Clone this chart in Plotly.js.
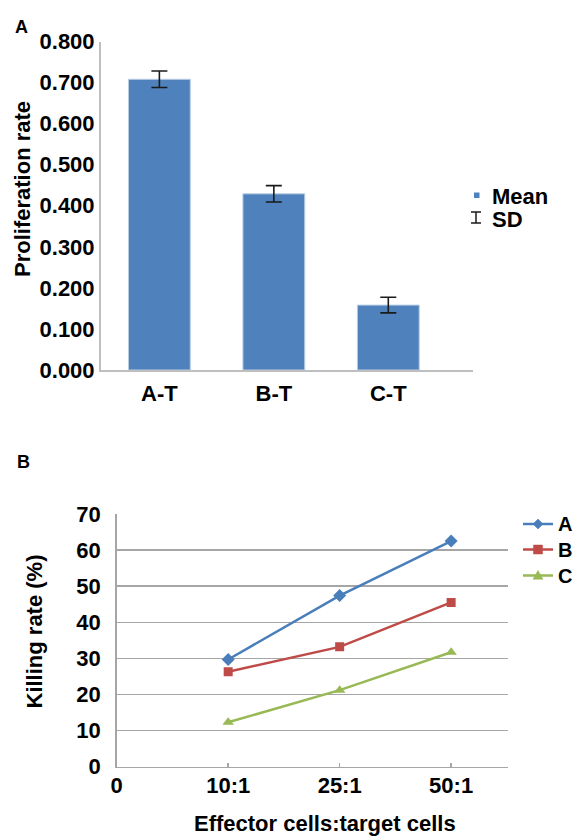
<!DOCTYPE html>
<html>
<head>
<meta charset="utf-8">
<script src="https://cdn.plot.ly/plotly-3.0.1.min.js"></script>
<style>html,body{margin:0;padding:0;background:#fff;}#chart{width:574px;height:837px;}</style>
</head>
<body>
<div id="chart"></div>
<script>
// ---- data ----
const barCategories = ['A-T', 'B-T', 'C-T'];
const meanValues = [0.708, 0.429, 0.158];
const sdValues = [0.020, 0.020, 0.019];

const ratioCategories = ['0', '10:1', '25:1', '50:1'];
const killX = ['10:1', '25:1', '50:1'];
const killA = [29.7, 47.4, 62.5];
const killB = [26.3, 33.2, 45.5];
const killC = [12.3, 21.2, 31.7];
const seriesNames = ['A', 'B', 'C'];

// ---- helpers ----
const W = 574, H = 837;
const px = x => x / W;
const py = y => 1 - y / H;
const FONT = {family: 'Liberation Sans, Arial, sans-serif', size: 22, color: '#000', weight: 'bold'};
const AXIS_GRAY = '#bfbfbf';
const COLORS = ['#4A7EBB', '#BE4B48', '#98B954'];
const SYMBOLS = ['diamond', 'square', 'triangle-up'];
const SIZES = [10, 9, 10];

const traces = [
  {
    type: 'bar', x: barCategories, y: meanValues, xaxis: 'x', yaxis: 'y',
    width: 0.54, showlegend: false, name: 'Mean',
    marker: {color: '#4F81BD', line: {color: '#b9cde5', width: 1}},
    error_y: {type: 'data', array: sdValues, visible: true, color: '#1a1a1a', thickness: 1.6, width: 8}
  }
];
[killA, killB, killC].forEach((vals, i) => {
  traces.push({
    type: 'scatter', mode: 'lines+markers', x: killX, y: vals, name: seriesNames[i],
    xaxis: 'x2', yaxis: 'y2', showlegend: false,
    line: {color: COLORS[i], width: 2.5},
    marker: {symbol: SYMBOLS[i], size: SIZES[i], color: COLORS[i]}
  });
});

const annotations = [
  {text: 'A', x: px(21.5), y: py(27), xanchor: 'center', yanchor: 'middle',
   font: {family: FONT.family, size: 18, weight: 'bold', color: '#000'}},
  {text: 'B', x: px(23.5), y: py(461.5), xanchor: 'center', yanchor: 'middle',
   font: {family: FONT.family, size: 18, weight: 'bold', color: '#000'}},
  {text: 'Proliferation rate', x: px(22), y: py(189), textangle: -90, xanchor: 'center', yanchor: 'middle', font: FONT},
  {text: 'Killing rate (%)', x: px(33.5), y: py(632), textangle: -90, xanchor: 'center', yanchor: 'middle', font: FONT},
  {text: 'Effector cells:target cells', x: px(325), y: 0, xanchor: 'center', yanchor: 'bottom', font: FONT, borderpad: 0},
  {text: 'Mean', x: px(490), y: py(196), xanchor: 'left', yanchor: 'middle', font: FONT},
  {text: 'SD', x: px(490), y: py(220), xanchor: 'left', yanchor: 'middle', font: FONT}
];
const shapes = [
  // Mean legend swatch
  {type: 'rect', x0: px(474), x1: px(479.5), y0: py(192.5), y1: py(198), fillcolor: '#4F81BD', line: {width: 0}},
  // SD legend I-beam
  {type: 'line', x0: px(476), x1: px(476), y0: py(212), y1: py(223), line: {color: '#1a1a1a', width: 1.5}},
  {type: 'line', x0: px(471), x1: px(481), y0: py(212), y1: py(212), line: {color: '#1a1a1a', width: 1.5}},
  {type: 'line', x0: px(471), x1: px(481), y0: py(223), y1: py(223), line: {color: '#1a1a1a', width: 1.5}}
];

// manual legend for panel B
const legendY = [524, 549.5, 575.5];
seriesNames.forEach((name, i) => {
  const yc = legendY[i];
  const c = COLORS[i];
  shapes.push({type: 'line', x0: px(523), x1: px(553), y0: py(yc), y1: py(yc), line: {color: c, width: 2.5}});
  const cx = 538;
  let path;
  if (i === 0) {
    const r = 5;
    path = `M ${px(cx)} ${py(yc - r)} L ${px(cx + r)} ${py(yc)} L ${px(cx)} ${py(yc + r)} L ${px(cx - r)} ${py(yc)} Z`;
  } else if (i === 1) {
    const r = 4.5;
    path = `M ${px(cx - r)} ${py(yc - r)} L ${px(cx + r)} ${py(yc - r)} L ${px(cx + r)} ${py(yc + r)} L ${px(cx - r)} ${py(yc + r)} Z`;
  } else {
    const r = 5;
    path = `M ${px(cx)} ${py(yc - r)} L ${px(cx + r)} ${py(yc + r * 0.75)} L ${px(cx - r)} ${py(yc + r * 0.75)} Z`;
  }
  shapes.push({type: 'path', path: path, fillcolor: c, line: {color: c, width: 0.5}});
  annotations.push({text: name, x: px(557), y: py(yc), xanchor: 'left', yanchor: 'middle', borderpad: 0,
                    font: {family: FONT.family, size: 20, weight: 'bold', color: '#000'}});
});
annotations.forEach(a => { a.xref = 'paper'; a.yref = 'paper'; a.showarrow = false; });
shapes.forEach(s => { s.xref = 'paper'; s.yref = 'paper'; });

const layout = {
  width: W, height: H,
  margin: {l: 0, r: 0, t: 0, b: 0},
  paper_bgcolor: '#fff', plot_bgcolor: 'rgba(0,0,0,0)',
  font: FONT,
  showlegend: false,
  xaxis: {
    domain: [px(101), px(473)], anchor: 'y',
    type: 'category', categoryorder: 'array', categoryarray: barCategories,
    range: [-0.51, 2.74], fixedrange: true,
    showline: true, linecolor: AXIS_GRAY, linewidth: 2, ticks: '', showgrid: false, zeroline: false,
    tickfont: FONT, ticklabelstandoff: 3
  },
  yaxis: {
    domain: [py(370), py(41.5)], anchor: 'x',
    range: [0, 0.8], dtick: 0.1, tick0: 0, tickformat: '.3f', fixedrange: true,
    showline: true, linecolor: AXIS_GRAY, linewidth: 2, ticks: '', showgrid: false, zeroline: false,
    tickfont: FONT, ticklabelstandoff: 0
  },
  xaxis2: {
    domain: [px(116.7), px(508)], anchor: 'y2',
    type: 'category', categoryorder: 'array', categoryarray: ratioCategories,
    range: [0, 3.51], fixedrange: true,
    showline: true, linecolor: '#a6a6a6', linewidth: 1.5,
    ticks: 'inside', ticklen: 4, tickcolor: '#a6a6a6', tickwidth: 1.5,
    showgrid: false, zeroline: false,
    tickfont: FONT, ticklabelstandoff: -2
  },
  yaxis2: {
    domain: [py(766.7), py(514)], anchor: 'x2',
    range: [0, 70], dtick: 10, tick0: 0, fixedrange: true,
    showline: true, linecolor: '#a6a6a6', linewidth: 1.5, ticks: '',
    showgrid: true, gridcolor: '#a6a6a6', gridwidth: 1.5, zeroline: false,
    tickfont: FONT, ticklabelstandoff: 10
  },
  annotations: annotations,
  shapes: shapes
};

Plotly.newPlot('chart', traces, layout, {displayModeBar: false, staticPlot: true});
</script>
</body>
</html>
